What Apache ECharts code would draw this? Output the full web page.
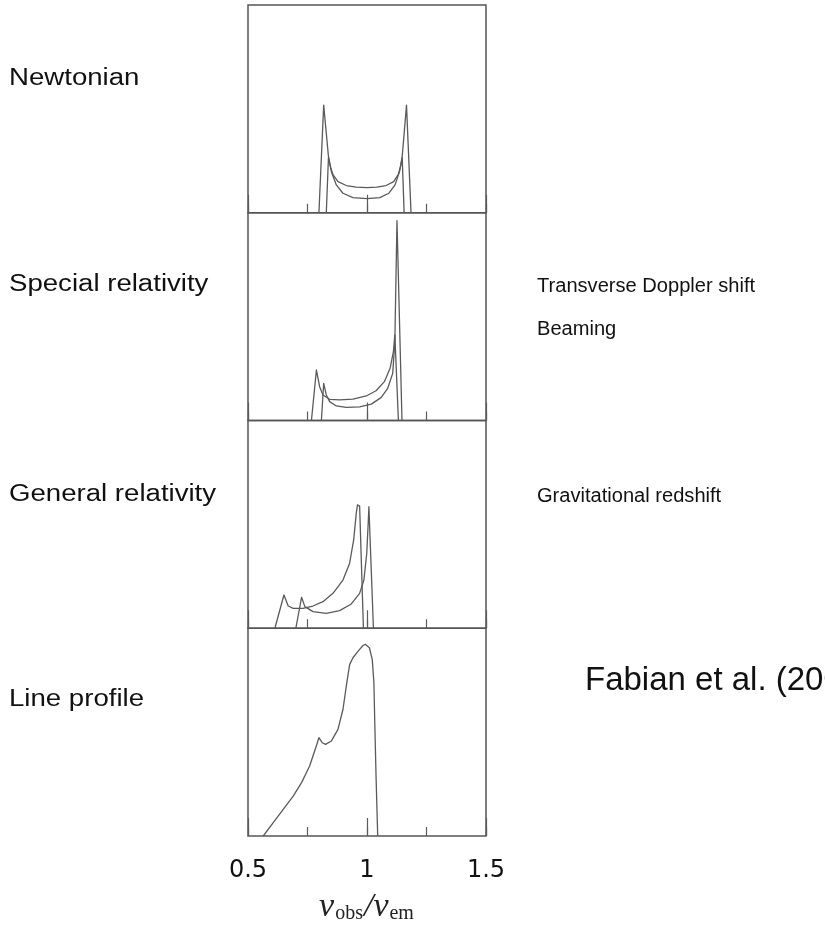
<!DOCTYPE html>
<html><head><meta charset="utf-8">
<script src="https://cdn.jsdelivr.net/npm/echarts@6/dist/echarts.min.js"></script>
<style>html,body{margin:0;padding:0;background:#fff}#c{width:825px;height:928px}</style>
</head><body><div id="c"></div>
<script>
// ---- data (x = nu_obs/nu_em, y = relative flux, % of panel height) ----
const xTicks = [0.5, 1, 1.5];
const panelLabels = ['Newtonian', 'Special relativity', 'General relativity', 'Line profile'];
const effectLabels = ['Transverse Doppler shift', 'Beaming', 'Gravitational redshift'];
const citation = 'Fabian et al. (2000)';

// Newtonian
const newtA_x = [0.798, 0.818, 0.838, 0.850, 0.871, 0.899, 0.941, 1.000, 1.054, 1.092, 1.118, 1.137, 1.148, 1.166, 1.185];
const newtA_y = [0, 51.8, 27.2, 19.9, 13.4, 9.4, 7.3, 6.8, 7.3, 9.4, 13.4, 19.9, 27.2, 51.8, 0];
const newtB_x = [0.829, 0.838, 0.846, 0.857, 0.878, 0.913, 0.955, 1.000, 1.041, 1.080, 1.112, 1.131, 1.141, 1.148, 1.156];
const newtB_y = [0, 26.5, 22.3, 18.3, 15.0, 13.1, 12.3, 12.1, 12.3, 13.1, 15.0, 18.3, 22.3, 26.5, 0];
// Special relativity
const srA_x = [0.7665, 0.7875, 0.801, 0.815, 0.843, 0.885, 0.941, 0.997, 1.038, 1.073, 1.097, 1.111, 1.117, 1.132];
const srA_y = [0, 24.3, 16.3, 12.3, 10.2, 9.9, 10.3, 11.8, 14.3, 18.7, 25.1, 33.1, 41.2, 0];
const srB_x = [0.8084, 0.818, 0.829, 0.843, 0.871, 0.913, 0.969, 1.018, 1.059, 1.087, 1.108, 1.117, 1.126, 1.147];
const srB_y = [0, 17.9, 12.3, 9.1, 7.0, 6.3, 6.6, 7.9, 11.0, 15.5, 22.7, 38.0, 96.2, 0];
// General relativity
const grA_x = [0.613, 0.651, 0.669, 0.690, 0.731, 0.773, 0.815, 0.857, 0.899, 0.927, 0.944, 0.955, 0.960, 0.969, 0.985];
const grA_y = [0, 16.0, 10.7, 9.6, 9.6, 10.7, 12.8, 16.8, 23.2, 31.3, 42.5, 55.4, 59.4, 58.8, 0];
const grB_x = [0.701, 0.725, 0.739, 0.773, 0.829, 0.885, 0.934, 0.969, 0.987, 0.999, 1.005, 1.008, 1.027];
const grB_y = [0, 14.9, 10.4, 8.0, 7.2, 8.5, 11.7, 16.8, 23.2, 36.1, 50.5, 58.5, 0];
// Line profile
const lp_x = [0.564, 0.606, 0.648, 0.690, 0.725, 0.759, 0.787, 0.798, 0.812, 0.826, 0.850, 0.878, 0.899, 0.913, 0.927, 0.941, 0.962, 0.983, 0.994, 1.010, 1.022, 1.029, 1.033, 1.038, 1.045];
const lp_y = [0, 6.4, 12.8, 19.2, 25.7, 33.7, 43.3, 47.3, 44.9, 44.1, 45.7, 51.3, 60.9, 72.1, 82.5, 85.8, 88.9, 91.7, 92.2, 90.6, 85.0, 73.8, 52.9, 28.8, 0];

const panels = [
  [[newtA_x, newtA_y], [newtB_x, newtB_y]],
  [[srA_x, srA_y], [srB_x, srB_y]],
  [[grA_x, grA_y], [grB_x, grB_y]],
  [[lp_x, lp_y]]
];

// ---- layout ----
const L = 248, W = 238, T0 = 5, PH = 207.75;
const ink = '#5a5a5a';
const zip = (xs, ys) => xs.map((x, i) => [x, ys[i]]);

const grid = [], xAxis = [], yAxis = [], series = [];
panels.forEach((curves, i) => {
  grid.push({ left: L, width: W, top: T0 + i * PH, height: PH, show: true,
    borderColor: '#555', borderWidth: 1.5, backgroundColor: 'transparent' });
  const last = i === panels.length - 1;
  xAxis.push({ type: 'value', gridIndex: i, min: 0.5, max: 1.5, interval: 0.25, position: 'bottom',
    axisLine: { show: false }, splitLine: { show: false }, axisLabel: { show: false },
    axisTick: { show: true, inside: true, length: 9, lineStyle: { color: ink, width: 1.2 } } });
  xAxis.push({ type: 'value', gridIndex: i, min: 0.5, max: 1.5, interval: 0.5, position: 'bottom',
    axisLine: { show: false }, splitLine: { show: false },
    axisTick: { show: true, inside: true, length: 18, lineStyle: { color: ink, width: 1.2 } },
    axisLabel: { show: last, margin: 23, fontFamily: 'DejaVu Sans', fontSize: 24, color: '#111',
      formatter: v => xTicks.includes(v) ? String(v) : '' },
    name: last ? '{v|ν}{s|obs}{v|/ν}{s|em}' : '', nameLocation: 'middle', nameGap: 52,
    nameTextStyle: { rich: {
      v: { fontFamily: 'Liberation Serif', fontStyle: 'italic', fontSize: 34, color: '#222', lineHeight: 38 },
      s: { fontFamily: 'Liberation Serif', fontSize: 20, color: '#222', padding: [14, 1, 0, 1], lineHeight: 38 }
    } } });
  yAxis.push({ type: 'value', gridIndex: i, min: 0, max: 100, show: false });
  curves.forEach(([xs, ys]) => {
    series.push({ type: 'line', xAxisIndex: 2 * i, yAxisIndex: i, data: zip(xs, ys),
      showSymbol: false, symbol: 'none', silent: true, clip: true, smooth: false,
      lineStyle: { color: ink, width: 1.3, join: 'round' } });
  });
});

const txt = (text, x, y, size, sx) => ({ type: 'text', x, y, scaleX: sx, silent: true,
  style: { text, fontFamily: 'Liberation Sans', fontSize: size, fill: '#111', verticalAlign: 'middle', align: 'left' } });

const graphic = [
  txt(panelLabels[0], 9, 79, 23, 1.2),
  txt(panelLabels[1], 9, 285, 23, 1.2),
  txt(panelLabels[2], 9, 495, 23, 1.2),
  txt(panelLabels[3], 9, 700, 23, 1.2),
  txt(effectLabels[0], 537, 287, 19.5, 1.03),
  txt(effectLabels[1], 537, 330, 19.5, 1.03),
  txt(effectLabels[2], 537, 497, 19.5, 1.03),
  txt(citation, 585, 681, 33, 1.0)
];

const chart = echarts.init(document.getElementById('c'), null, { renderer: 'canvas' });
chart.setOption({ animation: false, backgroundColor: '#fff', grid, xAxis, yAxis, series, graphic });
</script></body></html>
